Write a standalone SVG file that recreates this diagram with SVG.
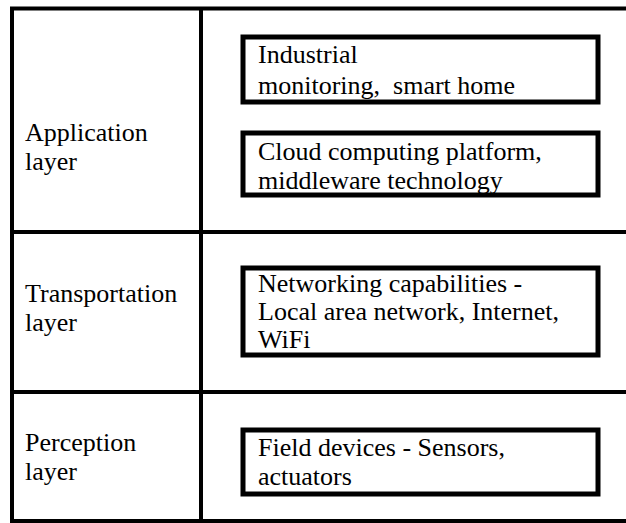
<svg xmlns="http://www.w3.org/2000/svg" width="626" height="523" viewBox="0 0 626 523">
<style>
.t{font-family:"Liberation Serif","Times New Roman",serif;font-size:26px;fill:#000}
.ln{stroke:#000;stroke-width:4;fill:none}
.bx{stroke:#000;stroke-width:5;fill:#fff}
</style>
<rect width="626" height="523" fill="#fff"/>
<g id="connectors">
<line class="ln" x1="10" y1="8.5" x2="626" y2="8.5" stroke-width="3"/>
<line class="ln" x1="12" y1="7" x2="12" y2="522"/>
<line class="ln" x1="201" y1="7" x2="201" y2="521"/>
<line class="ln" x1="10" y1="232" x2="626" y2="232"/>
<line class="ln" x1="10" y1="392" x2="626" y2="392"/>
<line class="ln" x1="10" y1="521" x2="626" y2="521" stroke-width="2"/>
</g>
<g id="application-layer">
<text class="t" x="25" y="141">Application</text>
<text class="t" x="25" y="170">layer</text>
</g>
<g id="transportation-layer">
<text class="t" x="25" y="302">Transportation</text>
<text class="t" x="25" y="331">layer</text>
</g>
<g id="perception-layer">
<text class="t" x="25" y="451">Perception</text>
<text class="t" x="25" y="480">layer</text>
</g>
<g id="box-industrial">
<rect class="bx" x="243" y="37" width="355" height="65"/>
<text class="t" x="258" y="63">Industrial</text>
<text class="t" x="258" y="94" xml:space="preserve">monitoring,  smart home</text>
</g>
<g id="box-cloud">
<rect class="bx" x="243" y="133" width="355" height="62"/>
<text class="t" x="258" y="160">Cloud computing platform,</text>
<text class="t" x="258" y="189">middleware technology</text>
</g>
<g id="box-network">
<rect class="bx" x="243" y="268" width="355" height="87"/>
<text class="t" x="258" y="292">Networking capabilities -</text>
<text class="t" x="258" y="320">Local area network, Internet,</text>
<text class="t" x="258" y="348">WiFi</text>
</g>
<g id="box-field">
<rect class="bx" x="243" y="430" width="355" height="64"/>
<text class="t" x="258" y="456">Field devices - Sensors,</text>
<text class="t" x="258" y="485">actuators</text>
</g>
</svg>
